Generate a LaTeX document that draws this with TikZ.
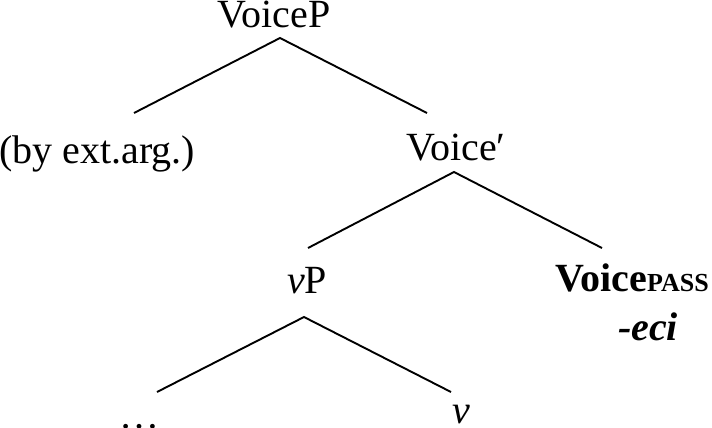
\documentclass[tikz,border=0pt]{standalone}
\usepackage{fontspec}
\setmainfont{Liberation Serif}
\begin{document}
\begin{tikzpicture}[x=1pt,y=-1pt,
  lbl/.style={anchor=base,inner sep=0pt,font=\fontsize{40}{48}\selectfont},
  branch/.style={line width=1.9pt}]
\useasboundingbox (0,0) rectangle (712,428);
% labels
\node[lbl] (voicep) at (274,28) {VoiceP};
\node[lbl] (ext) at (97,163) {(by ext.arg.)};
\node[lbl] (voicebar) at (456,160) {Voice\symbol{"2032}};
\node[lbl] (vp) at (307,293) {\textit{v}P};
\node[lbl] (voicepass) at (632,291) {\textbf{Voice{\fontsize{26}{30}\selectfont PASS}}};
\node[lbl] (eci) at (648,340) {\textbf{\textit{-eci}}};
\node[lbl] (dots) at (139,428) {\dots};
\node[lbl] (v) at (461,423) {\textit{v}};
% branch points
\coordinate (a1) at (280,38);
\coordinate (l1) at (134,113);
\coordinate (r1) at (427,113);
\coordinate (a2) at (454,172);
\coordinate (l2) at (308,248);
\coordinate (r2) at (602,248);
\coordinate (a3) at (304,317);
\coordinate (l3) at (157,392);
\coordinate (r3) at (451,392);
\draw[branch] (l1) -- (a1) -- (r1);
\draw[branch] (l2) -- (a2) -- (r2);
\draw[branch] (l3) -- (a3) -- (r3);
\end{tikzpicture}
\end{document}
